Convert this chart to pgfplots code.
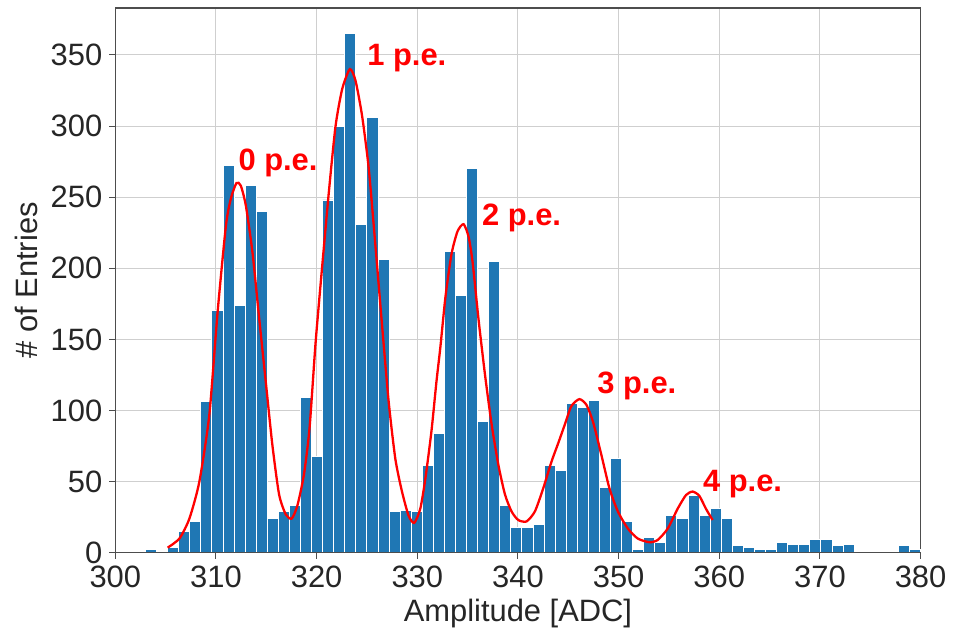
\documentclass[border=0pt]{standalone}
\usepackage{fontspec}
\setmainfont{Liberation Sans}
\usepackage{pgfplots}
\pgfplotsset{compat=1.18}
\definecolor{barblue}{HTML}{1F77B4}
\definecolor{gridgray}{HTML}{CFCFCF}
\definecolor{framegray}{HTML}{4D4D4D}
\definecolor{textgray}{HTML}{262626}
\begin{document}
\begin{tikzpicture}
\begin{axis}[
  scale only axis,
  width=404pt, height=273.3pt,
  xmin=300, xmax=380, ymin=0, ymax=383,
  xtick={300,310,...,380}, ytick={0,50,...,350},
  grid=major, grid style={gridgray, line width=0.5pt},
  axis line style={framegray, line width=0.6pt},
  tick style={framegray, line width=0.5pt},
  tick align=outside, major tick length=3pt,
  xtick pos=bottom, ytick pos=left,
  /pgf/number format/assume math mode=true,
  tick label style={font=\fontsize{15.5}{18}\selectfont, text=textgray},
  xlabel={Amplitude [ADC]}, ylabel={\# of Entries},
  every axis x label/.style={at={(axis description cs:0.5,-0.1257)}, anchor=base, font=\fontsize{15.5}{18}\selectfont, text=textgray},
  every axis y label/.style={at={(axis description cs:-0.0962,0.5)}, rotate=90, anchor=base, font=\fontsize{15.5}{18}\selectfont, text=textgray},
  clip=false,
]
\addplot[ybar, bar width=1.1, bar shift=0pt, fill=barblue, draw=white, line width=0.5pt] coordinates {
(303.55,2) (305.75,4) (306.85,15) (307.95,22) (309.05,106) (310.15,170)
(311.25,272) (312.35,174) (313.45,258) (314.55,240) (315.65,24) (316.75,29)
(317.85,33) (318.95,109) (320.05,68) (321.15,248) (322.25,300) (323.35,365)
(324.45,231) (325.55,306) (326.65,206) (327.75,29) (328.85,30) (329.95,29)
(331.05,61) (332.15,84) (333.25,212) (334.35,181) (335.45,270) (336.55,92)
(337.65,205) (338.75,33) (339.85,18) (340.95,18) (342.05,20) (343.15,61)
(344.25,58) (345.35,105) (346.45,102) (347.55,107) (348.65,46) (349.75,66)
(350.85,22) (351.95,2) (353.05,11) (354.15,7) (355.25,26) (356.35,24)
(357.45,40) (358.55,26) (359.65,31) (360.75,24) (361.85,5) (362.95,4)
(364.05,2) (365.15,2) (366.25,7) (367.35,6) (368.45,6) (369.55,9)
(370.65,9) (371.75,5) (372.85,6) (378.35,5) (379.45,2)
};
\addplot[red, line width=1.15pt, smooth, tension=0.4, no marks] coordinates {
(305.2,3.6) (306.37,10) (307.36,24) (308.35,50) (309.34,97) (310.16,169)
(310.99,230) (311.48,249) (312.04,260) (312.47,258) (312.97,244) (313.63,211)
(314.29,165) (314.95,120) (315.6,76) (316.27,41) (316.93,27) (317.52,24)
(318.08,33) (318.74,55) (319.3,88) (319.9,148) (320.56,202) (321.22,254)
(321.88,300) (322.54,326) (323.3,340) (323.86,332) (324.52,307) (325.18,270)
(325.84,216) (326.5,160) (327.16,106) (327.82,66) (328.48,43) (329.14,26)
(329.7,21) (330.3,31) (330.8,52) (331.4,85) (331.9,120) (332.3,145)
(332.8,180) (333.4,210) (334.0,226) (334.6,231) (335.1,222) (335.5,204)
(336.07,165) (336.73,125) (337.39,90) (338.05,62) (338.71,41) (339.37,29)
(340.03,23) (340.85,22) (341.68,29) (342.5,45) (343.33,64) (344.0,77)
(344.65,90) (345.3,103) (346.1,108) (346.8,104) (347.46,92) (348.28,69)
(349.1,45) (349.93,29) (350.92,17) (351.9,10) (353.07,7.4) (353.89,9)
(354.88,17) (355.87,31) (356.7,40.6) (357.36,43) (358.02,40) (358.67,31)
(359.34,23)
};
\draw[framegray, line width=0.6pt] (rel axis cs:0,0) -- (rel axis cs:1,0);
\begin{scope}[every node/.style={anchor=base west, inner sep=0pt, text=red, font=\bfseries\fontsize{15.5}{18}\selectfont}]
\node at (axis cs:312.2,268.8) {0 p.e.};
\node at (axis cs:325.0,342.8) {1 p.e.};
\node at (axis cs:336.4,230.1) {2 p.e.};
\node at (axis cs:347.85,112.1) {3 p.e.};
\node at (axis cs:358.35,43) {4 p.e.};
\end{scope}
\end{axis}
\path ([xshift=-57.85pt, yshift=-37.7pt]current axis.south west) rectangle ([xshift=14.65pt, yshift=4pt]current axis.north east);
\end{tikzpicture}
\end{document}
